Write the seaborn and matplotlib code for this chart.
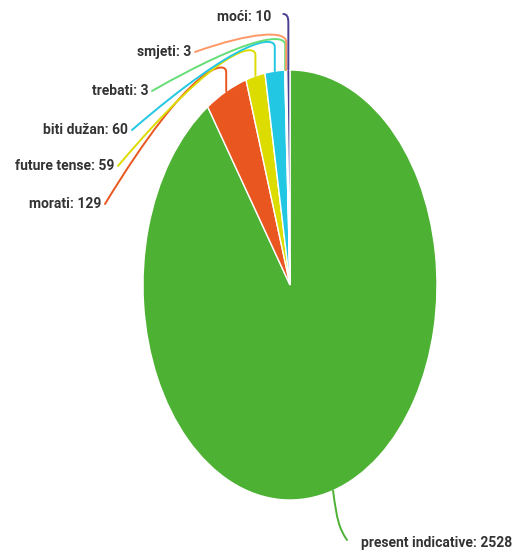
import numpy as np
import matplotlib
matplotlib.use("Agg")
import matplotlib.pyplot as plt
from matplotlib.path import Path
from matplotlib.patches import PathPatch
import seaborn as sns

# ---- data ----
categories = ["present indicative", "morati", "future tense", "biti dužan", "trebati", "smjeti", "moći"]
values = [2528, 129, 59, 60, 3, 3, 10]
colors = ["#4db133", "#e9561f", "#dcdc00", "#22c7e4", "#66dd77", "#ff9966", "#4b3d8f"]

sns.set_theme(style="white")
plt.rcParams["font.family"] = ["Roboto", "DejaVu Sans"]

W, H = 517, 557
fig = plt.figure(figsize=(W / 100, H / 100), dpi=100)
ax = fig.add_axes([0, 0, 1, 1])

CX, CY, RX, RY = 290, 285, 147, 215  # pixel geometry of the (elliptical) pie


def p2d(px, py):
    return ((px - CX) / RX, (CY - py) / RY)


def d2p(x, y):
    return (CX + x * RX, CY - y * RY)


wedges, _ = ax.pie(values, colors=colors, startangle=90, counterclock=False,
                   wedgeprops=dict(edgecolor="white", linewidth=1.0))
ax.set_aspect("auto")
ax.set_xlim(p2d(0, 0)[0], p2d(W, 0)[0])
ax.set_ylim(p2d(0, H)[1], p2d(0, 0)[1])
ax.axis("off")

# label placement (pixel coords): text anchor x, y, alignment, elbow y
label_pos = {
    "present indicative": (361, 543, "left", None),
    "morati": (101, 204, "right", 72),
    "future tense": (114, 166, "right", 55),
    "biti dužan": (128, 130, "right", 47),
    "trebati": (148, 91, "right", 45),
    "smjeti": (191, 52, "right", 42),
    "moći": (271, 17, "right", None),
}

for w, cat, val, col in zip(wedges, categories, values, colors):
    mid = np.deg2rad((w.theta1 + w.theta2) / 2)
    ex, ey = d2p(np.cos(mid), np.sin(mid))
    tx, ty, ha, ely = label_pos[cat]
    ax.text(*p2d(tx, ty), f"{cat}: {val}", ha=ha, va="center", fontsize=10,
            fontweight="bold", color="#333333")
    if cat == "present indicative":
        pts = [(ex, ey), (ex + 4, ey + 30), (tx - 22, ty - 15), (tx - 14, ty - 3)]
        codes = [Path.MOVETO, Path.CURVE4, Path.CURVE4, Path.CURVE4]
    elif cat == "moći":
        pts = [(ex, ey), (ex, 22), (ex, 14), (ex - 5, 14)]
        codes = [Path.MOVETO, Path.LINETO, Path.CURVE3, Path.CURVE3]
    else:
        sx = tx + 4
        pts = [(ex, ey), (ex, ely), (ex, ely - 12), (ex - 35, ely - 10), (sx, ty)]
        codes = [Path.MOVETO, Path.LINETO, Path.CURVE4, Path.CURVE4, Path.CURVE4]
    dpts = [p2d(*p) for p in pts]
    ax.add_patch(PathPatch(Path(dpts, codes), fill=False, edgecolor=col, lw=1.4,
                           capstyle="round", zorder=3))

fig.savefig("out.png", dpi=100, facecolor="white")
